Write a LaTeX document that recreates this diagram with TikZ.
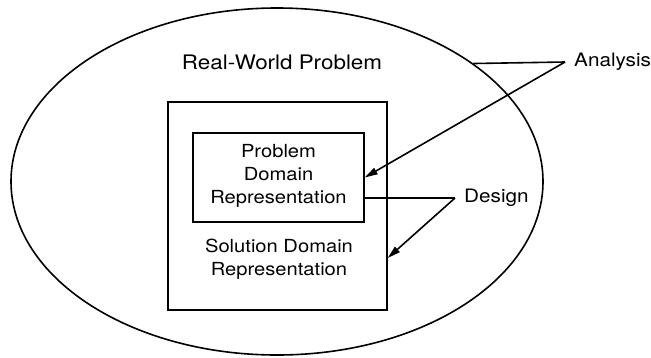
\documentclass[tikz,border=0pt]{standalone}
\usepackage{fontspec}
\setmainfont[FakeStretch=1.12]{TeX Gyre Heros}
\usetikzlibrary{shapes.geometric, arrows.meta, positioning}

\begin{document}
\begin{tikzpicture}[x=1pt, y=-1pt,
    boundary/.style={ellipse, draw, line width=1.6pt},
    box/.style={rectangle, draw, line width=1.4pt, inner sep=0pt},
    caption/.style={font=\fontsize{18}{23}\selectfont, align=center},
    tag/.style={font=\fontsize{18.5}{23}\selectfont, inner sep=9pt, anchor=west},
    arrow/.style={-{Triangle[length=13pt, width=7pt]}, line width=1.6pt},
    link/.style={line width=1.6pt}
]
\useasboundingbox (0,0) rectangle (651,357);

% Outer ellipse: the real-world problem
\node[boundary, minimum width=532pt, minimum height=347pt] (world) at (277,181.5) {};
\node[caption, font=\fontsize{20}{24}\selectfont] (worldtext) at (282,62) {Real-World Problem};

% Nested boxes
\node[box, minimum width=219pt, minimum height=208pt] (solution) at (277.5,206) {};
\node[box, minimum width=171pt, minimum height=89pt] (problem) at (278.5,177.5) {};
\node[caption] (problemtext) at (278.5,176) {Problem\\Domain\\Representation};
\node[caption] (solutiontext) at (279,259) {Solution Domain\\Representation};

% Labels on the right
\node[tag] (analysis) at (565,62) {Analysis};
\node[tag] (design) at (455,198) {Design};
\coordinate (soltip) at (solution.east |- 0,258);

% Connectors
\draw[link] (analysis.west) -- (world.31.8);
\draw[arrow] (analysis.west) -- (problem.east);
\draw[link] (design.west) -- (design.west -| problem.east);
\draw[arrow] (design.west) -- (soltip);

\end{tikzpicture}
\end{document}
